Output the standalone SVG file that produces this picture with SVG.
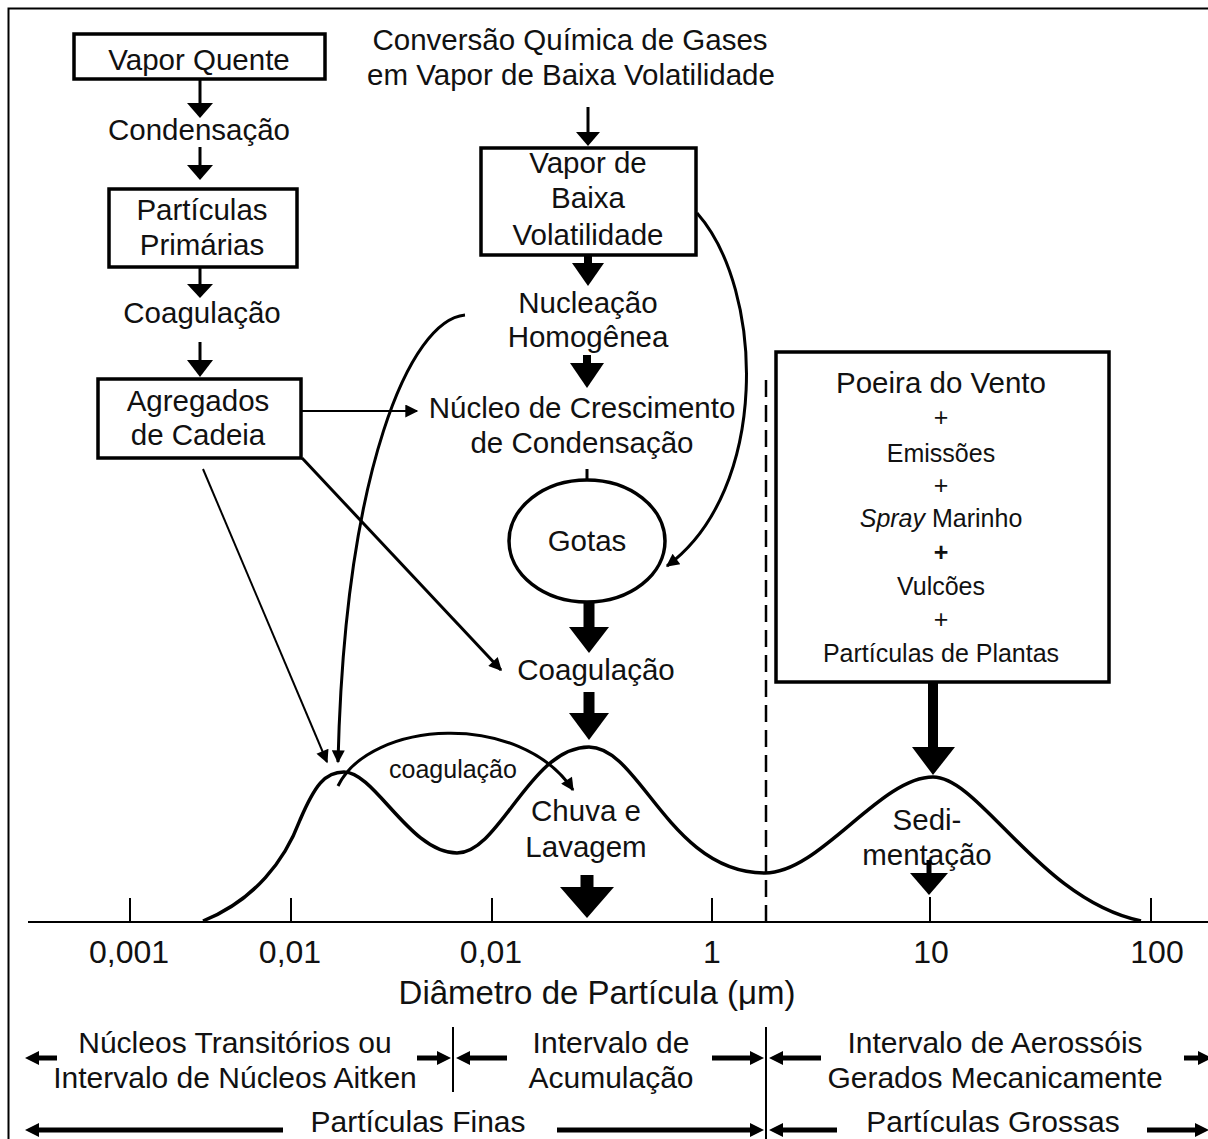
<svg xmlns="http://www.w3.org/2000/svg" width="1208" height="1139" viewBox="0 0 1208 1139">
<defs>
<style>
text{font-family:"Liberation Sans",Arial,sans-serif;fill:#111;text-anchor:middle}
.t{font-size:29.5px}
.s{font-size:25px}
.b{font-size:30px}
.k{font-size:32px}
.box{fill:#fff;stroke:#000;stroke-width:3.5}
.ln{fill:none;stroke:#000;stroke-width:3}
.th{fill:none;stroke:#000;stroke-width:2}
.cv{fill:none;stroke:#000;stroke-width:3.5}
.hd{fill:#000;stroke:none}
</style>
<marker id="ah" viewBox="0 0 10 10" refX="9" refY="5" markerWidth="16" markerHeight="13" markerUnits="userSpaceOnUse" orient="auto">
<path d="M0,0 L10,5 L0,10 z" fill="#000"/>
</marker>
</defs>
<rect x="0" y="0" width="1208" height="1139" fill="#fff"/>
<rect x="8.5" y="8.5" width="1300" height="1300" fill="none" stroke="#000" stroke-width="2"/>

<g id="vapor-quente">
<rect class="box" x="74" y="34" width="251" height="45" stroke-width="4"/>
<text class="t" x="199" y="70">Vapor Quente</text>
</g>
<g id="condensacao"><text class="t" x="199" y="140">Condensação</text></g>
<g id="particulas-primarias">
<rect class="box" x="109" y="189" width="188" height="78"/>
<text class="t" x="202" y="220">Partículas</text>
<text class="t" x="202" y="255">Primárias</text>
</g>
<g id="coagulacao-1"><text class="t" x="202" y="323">Coagulação</text></g>
<g id="agregados">
<rect class="box" x="98" y="379" width="203" height="79"/>
<text class="t" x="198" y="411">Agregados</text>
<text class="t" x="198" y="445">de Cadeia</text>
</g>

<g id="conversao">
<text class="t" x="570" y="50">Conversão Química de Gases</text>
<text class="t" x="571" y="85">em Vapor de Baixa Volatilidade</text>
</g>
<g id="vapor-baixa">
<rect class="box" x="481" y="148" width="215" height="107"/>
<text class="t" x="588" y="173">Vapor de</text>
<text class="t" x="588" y="208">Baixa</text>
<text class="t" x="588" y="245">Volatilidade</text>
</g>
<g id="nucleacao">
<text class="t" x="588" y="313">Nucleação</text>
<text class="t" x="588" y="347">Homogênea</text>
</g>
<g id="nucleo">
<text class="t" x="582" y="418">Núcleo de Crescimento</text>
<text class="t" x="582" y="453">de Condensação</text>
</g>
<g id="gotas">
<ellipse cx="587" cy="541" rx="78" ry="61" fill="#fff" stroke="#000" stroke-width="3.5"/>
<text class="t" x="587" y="551">Gotas</text>
</g>
<g id="coagulacao-2"><text class="t" x="596" y="680">Coagulação</text></g>
<g id="coagulacao-small"><text class="s" x="453" y="778">coagulação</text></g>
<g id="chuva">
<text class="t" x="586" y="821">Chuva e</text>
<text class="t" x="586" y="857">Lavagem</text>
</g>
<g id="sedimentacao">
<text class="t" x="927" y="830">Sedi-</text>
<text class="t" x="927" y="865">mentação</text>
</g>

<g id="fontes">
<rect class="box" x="776" y="352" width="333" height="330" stroke-width="4"/>
<text class="t" x="941" y="393">Poeira do Vento</text>
<text class="s" x="941" y="426">+</text>
<text class="s" x="941" y="462">Emissões</text>
<text class="s" x="941" y="494">+</text>
<text class="s" x="941" y="527"><tspan font-style="italic">Spray</tspan> Marinho</text>
<text class="s" x="941" y="561" font-weight="bold">+</text>
<text class="s" x="941" y="595">Vulcões</text>
<text class="s" x="941" y="628">+</text>
<text class="s" x="941" y="662">Partículas de Plantas</text>
</g>

<g id="connectors">
<line class="ln" x1="200" y1="79" x2="200" y2="105"/>
<polygon class="hd" points="187,103 213,103 200,118"/>
<line class="ln" x1="200" y1="147" x2="200" y2="167"/>
<polygon class="hd" points="187,165 213,165 200,180"/>
<line class="ln" x1="200" y1="267" x2="200" y2="286"/>
<polygon class="hd" points="187,284 213,284 200,298"/>
<line class="ln" x1="200" y1="342" x2="200" y2="362"/>
<polygon class="hd" points="187,360 213,360 200,377"/>
<line class="ln" x1="588" y1="107" x2="588" y2="134"/>
<polygon class="hd" points="576,132 600,132 588,146"/>
<line x1="588" y1="254" x2="588" y2="265" stroke="#000" stroke-width="8"/>
<polygon class="hd" points="572,263 604,263 588,286"/>
<line x1="587" y1="355" x2="587" y2="365" stroke="#000" stroke-width="8"/>
<polygon class="hd" points="570,363 604,363 587,388"/>
<line class="ln" x1="587" y1="469" x2="587" y2="481"/>
<line x1="589" y1="602" x2="589" y2="629" stroke="#000" stroke-width="11"/>
<polygon class="hd" points="569,627 609,627 589,653"/>
<line x1="589" y1="692" x2="589" y2="715" stroke="#000" stroke-width="11"/>
<polygon class="hd" points="569,713 609,713 589,740"/>
<line x1="587" y1="875" x2="587" y2="889" stroke="#000" stroke-width="13"/>
<polygon class="hd" points="560,887 614,887 587,918"/>
<line x1="933" y1="682" x2="933" y2="749" stroke="#000" stroke-width="10"/>
<polygon class="hd" points="912,747 955,747 933,775"/>
<line x1="929" y1="860" x2="929" y2="875" stroke="#000" stroke-width="5"/>
<polygon class="hd" points="910,873 948,873 929,895"/>
<line class="th" x1="301" y1="411" x2="417" y2="411" marker-end="url(#ah)"/>
<line class="th" x1="203" y1="469" x2="327" y2="762" marker-end="url(#ah)"/>
<line class="ln" x1="302" y1="458" x2="501" y2="670" marker-end="url(#ah)"/>
<path class="ln" d="M465,315 C410,320 345,470 338,762" marker-end="url(#ah)"/>
<path class="ln" d="M697,213 C765,290 770,490 667,566" marker-end="url(#ah)"/>
<path class="ln" d="M338,786 C370,720 520,710 573,790" marker-end="url(#ah)"/>
</g>

<g id="distribution">
<path class="cv" d="M203,921 C255,900 285,860 300,820 C315,785 325,772 344,772 C375,772 410,853 457,853 C500,853 530,747 589,747 C640,747 670,873 765,873 C820,873 880,777 933,777 C980,777 1040,900 1141,921"/>
<line x1="766" y1="380" x2="766" y2="922" stroke="#000" stroke-width="2.5" stroke-dasharray="17,8"/>
</g>

<g id="axis">
<line x1="28" y1="922" x2="1208" y2="922" stroke="#000" stroke-width="2"/>
<g stroke="#000" stroke-width="2">
<line x1="130" y1="898" x2="130" y2="922"/>
<line x1="291" y1="898" x2="291" y2="922"/>
<line x1="492" y1="898" x2="492" y2="922"/>
<line x1="712" y1="898" x2="712" y2="922"/>
<line x1="930" y1="897" x2="930" y2="922"/>
<line x1="1151" y1="898" x2="1151" y2="922"/>
</g>
<text class="k" x="129" y="963">0,001</text>
<text class="k" x="290" y="963">0,01</text>
<text class="k" x="491" y="963">0,01</text>
<text class="k" x="712" y="963">1</text>
<text class="k" x="931" y="963">10</text>
<text class="k" x="1157" y="963">100</text>
<text x="597" y="1004" font-size="33">Diâmetro de Partícula (μm)</text>
</g>

<g id="ranges">
<g stroke="#000" stroke-width="2">
<line x1="453" y1="1027" x2="453" y2="1092"/>
<line x1="766" y1="1027" x2="766" y2="1139"/>
</g>
<g stroke="#000" stroke-width="5">
<line x1="37" y1="1058" x2="57" y2="1058"/>
<line x1="417" y1="1058" x2="440" y2="1058"/>
<line x1="468" y1="1058" x2="507" y2="1058"/>
<line x1="712" y1="1058" x2="753" y2="1058"/>
<line x1="781" y1="1058" x2="821" y2="1058"/>
<line x1="1184" y1="1058" x2="1200" y2="1058"/>
<line x1="37" y1="1130" x2="283" y2="1130"/>
<line x1="557" y1="1130" x2="753" y2="1130"/>
<line x1="781" y1="1130" x2="837" y2="1130"/>
<line x1="1147" y1="1130" x2="1197" y2="1130"/>
</g>
<g fill="#000">
<polygon points="25,1058 39,1051 39,1065"/>
<polygon points="451,1058 437,1051 437,1065"/>
<polygon points="456,1058 470,1051 470,1065"/>
<polygon points="764,1058 750,1051 750,1065"/>
<polygon points="769,1058 783,1051 783,1065"/>
<polygon points="1212,1058 1198,1051 1198,1065"/>
<polygon points="25,1130 39,1123 39,1137"/>
<polygon points="764,1130 750,1123 750,1137"/>
<polygon points="769,1130 783,1123 783,1137"/>
<polygon points="1209,1130 1195,1123 1195,1137"/>
</g>
<text class="b" x="235" y="1053">Núcleos Transitórios ou</text>
<text class="b" x="235" y="1088">Intervalo de Núcleos Aitken</text>
<text class="b" x="611" y="1053">Intervalo de</text>
<text class="b" x="611" y="1088">Acumulação</text>
<text class="b" x="995" y="1053">Intervalo de Aerossóis</text>
<text class="b" x="995" y="1088">Gerados Mecanicamente</text>
<text class="b" x="418" y="1132">Partículas Finas</text>
<text class="b" x="993" y="1132">Partículas Grossas</text>
</g>
</svg>
